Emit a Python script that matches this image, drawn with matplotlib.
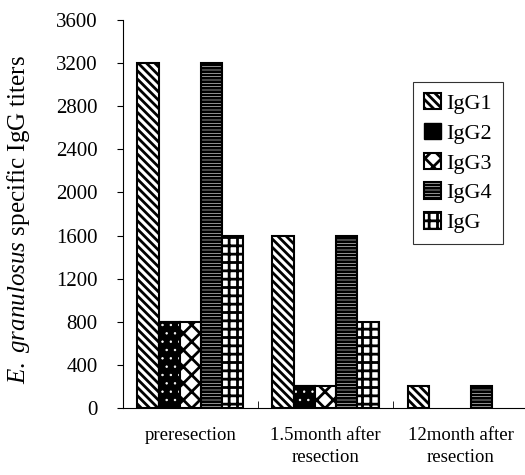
import matplotlib
matplotlib.use("Agg")
import matplotlib.pyplot as plt
import numpy as np
from matplotlib.patches import Patch

plt.rcParams['font.family'] = ['Liberation Serif', 'DejaVu Serif']
plt.rcParams['mathtext.fontset'] = 'custom'
plt.rcParams['mathtext.it'] = 'Liberation Serif:italic'
plt.rcParams['mathtext.rm'] = 'Liberation Serif'
plt.rcParams['hatch.linewidth'] = 2.0

categories = ["preresection", "1.5month after\nresection", "12month after\nresection"]
series = ["IgG1", "IgG2", "IgG3", "IgG4", "IgG"]
igg1 = [3200, 1600, 200]
igg2 = [800, 200, 0]
igg3 = [800, 200, 0]
igg4 = [3200, 1600, 200]
igg = [1600, 800, 0]
values = [igg1, igg2, igg3, igg4, igg]
yticks = [0, 400, 800, 1200, 1600, 2000, 2400, 2800, 3200, 3600]

hatches = ['\\\\\\\\', '', 'xx', '-----', '++']

fig = plt.figure(figsize=(5.25, 4.75), dpi=100)
ax = fig.add_axes([0.234, 0.141, 0.772, 0.817])

x = np.arange(len(categories))
w = 0.157
handles = []
for i, (name, vals) in enumerate(zip(series, values)):
    pos = x + (i - 2) * w
    v = np.array(vals)
    mask = v > 0
    if name == "IgG2":
        ax.bar(pos[mask], v[mask], w, color='black', edgecolor='black', linewidth=1.5)
        dots = ax.bar(pos[mask], v[mask], w, color='none', edgecolor='white', hatch='..', linewidth=0)
        for p in dots:
            try:
                p.set_hatch_linewidth(0.5)
            except AttributeError:
                pass
        ax.bar(pos[mask], v[mask], w, color='none', edgecolor='black', linewidth=1.5)
        handles.append(Patch(facecolor='black', edgecolor='black', label=name))
    else:
        ax.bar(pos[mask], v[mask], w, color='white', edgecolor='black', hatch=hatches[i], linewidth=1.5)
        handles.append(Patch(facecolor='white', edgecolor='black', hatch=hatches[i], linewidth=1.5, label=name))

ax.set_xlim(-0.5, 2.5)
ax.set_ylim(0, 3600)
ax.set_yticks(yticks)
ax.set_yticklabels([str(t) for t in yticks], fontsize=15)
ax.set_xticks(x)
ax.set_xticklabels(categories, fontsize=13.5, linespacing=1.35)
ax.tick_params(axis='x', length=0, pad=14)
ax.set_xticks([0.5, 1.5], minor=True)
ax.tick_params(axis='x', which='minor', direction='in', length=5)
ax.tick_params(axis='y', direction='out', length=4, pad=14)
for s in ['top', 'right']:
    ax.spines[s].set_visible(False)
ax.spines['left'].set_linewidth(0.8)
ax.spines['bottom'].set_linewidth(0.8)

ax.set_ylabel(r'$\mathit{E.\ granulosus}$ specific IgG titers', fontsize=18)
ax.yaxis.set_label_coords(-0.225, 0.487)

leg = ax.legend(handles=handles, loc='upper left', bbox_to_anchor=(0.716, 0.84),
                fontsize=16, frameon=True, fancybox=False, edgecolor='black',
                handlelength=0.75, handleheight=0.75, handletextpad=0.25,
                labelspacing=0.4, borderpad=0.5, borderaxespad=0)
leg.get_frame().set_linewidth(0.8)

fig.savefig("out.png", dpi=100)
